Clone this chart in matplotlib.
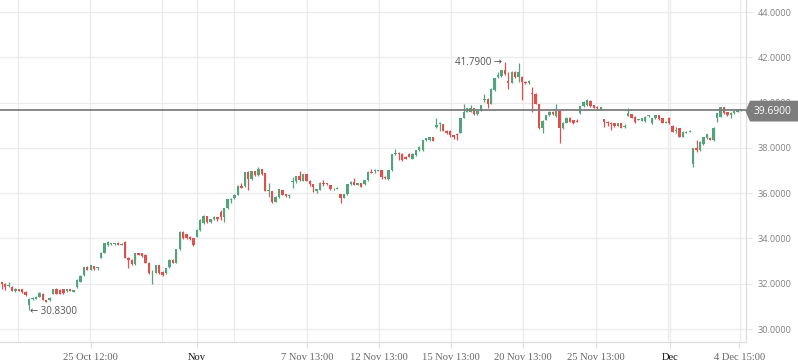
import matplotlib
matplotlib.use('Agg')
import matplotlib.pyplot as plt
from matplotlib.patches import Polygon
from matplotlib.transforms import IdentityTransform

# ---- data (hourly candles) ----
opens = [32.06, 32.01, 31.90, 31.87, 31.68, 31.75, 31.75, 31.65, 31.06, 31.31,
         31.35, 31.43, 31.57, 31.28, 31.28, 31.57, 31.76, 31.72, 31.75, 31.66,
         31.76, 31.65, 31.84, 32.09, 32.38, 32.76, 32.63, 32.78, 32.68, 33.15,
         33.37, 33.71, 33.75, 33.75, 33.80, 33.72, 33.85, 33.16, 33.05, 32.87,
         33.34, 33.34, 33.27, 32.93, 32.55, 32.49, 32.82, 32.53, 32.46, 32.72,
         33.07, 32.93, 33.52, 34.30, 34.20, 34.08, 34.00, 34.08,
         34.37, 34.69, 34.99, 34.72, 34.84, 34.93, 35.18, 34.93, 35.34, 35.72,
         35.77, 35.92, 36.33, 36.33, 36.95, 36.62, 36.96, 36.80, 37.06, 36.87,
         36.09, 36.09, 35.62, 35.81, 36.14, 35.95, 35.89, 36.50, 36.53, 36.75,
         36.55, 36.84, 36.55, 36.39, 36.11, 36.14, 36.46, 36.43, 36.36, 36.17,
         36.20, 35.96, 35.80, 35.96, 36.40, 36.50, 36.36, 36.43, 36.40, 36.58,
         36.95, 36.99, 36.99, 37.02, 36.73, 36.62, 37.02, 37.71, 37.79,
         37.75, 37.61, 37.75, 37.53, 37.68, 37.90, 37.90, 38.34, 38.34, 38.46,
         38.93, 39.05, 39.05, 38.76, 38.76, 38.56, 38.57, 38.67, 39.33, 39.59,
         39.59, 39.74, 39.49, 39.64, 40.11, 40.18, 39.96, 40.55, 41.14, 41.17,
         41.43, 40.96, 40.87, 41.36, 41.11, 41.14, 40.92, 40.85, 40.43, 40.40,
         39.93, 38.86, 39.23, 39.45, 39.59, 39.40, 39.64, 38.86, 39.11, 39.34,
         39.23, 39.17,
         39.52, 39.84, 39.89, 40.08, 39.89, 39.82, 39.70, 39.26, 39.15, 39.11,
         39.08, 38.98, 39.08, 38.93, 39.42, 39.48, 39.37, 39.23, 39.20, 39.18,
         39.40, 39.08, 39.30, 39.45, 39.30, 39.11, 39.34, 38.98, 38.76, 38.86,
         38.49, 38.67, 38.70, 37.31, 37.98, 37.90, 38.17, 38.42, 38.45, 38.34,
         39.34, 39.37, 39.79, 39.57, 39.45, 39.52, 39.59, 39.67]
highs = [32.08, 32.03, 32.09, 31.90, 31.80, 31.78, 31.78, 31.67, 31.38, 31.42,
         31.45, 31.63, 31.60, 31.30, 31.40, 31.77, 31.80, 31.78, 31.77, 31.78,
         31.78, 31.74, 32.20, 32.38, 32.75, 32.80, 32.83, 32.80, 32.75, 33.39,
         33.80, 33.87, 33.82, 33.80, 33.83, 33.80, 33.88, 33.18, 33.08, 33.37,
         33.37, 33.37, 33.30, 32.95, 32.62, 32.84, 32.84, 32.55, 32.70, 33.09,
         33.10, 33.55, 34.32, 34.33, 34.22, 34.10, 34.02, 34.40,
         34.85, 35.02, 35.00, 34.86, 34.99, 34.95, 35.28, 35.36, 35.76, 35.80,
         35.95, 36.36, 36.46, 36.95, 36.98, 36.98, 36.98, 37.17, 37.08, 36.90,
         36.43, 36.11, 35.86, 36.19, 36.16, 35.97, 35.95, 36.73, 36.77, 36.98,
         36.86, 36.86, 36.57, 36.40, 36.20, 36.48, 36.58, 36.45, 36.38, 36.23,
         36.28, 35.98, 35.98, 36.41, 36.52, 36.65, 36.45, 36.45, 36.60, 36.97,
         37.09, 37.06, 37.04, 37.04, 36.75, 37.04, 37.73, 37.93, 37.83,
         37.77, 37.63, 37.77, 37.77, 37.92, 38.07, 38.36, 38.44, 38.48, 38.48,
         39.34, 39.15, 39.07, 38.78, 38.78, 38.58, 38.64, 39.32, 39.96, 39.76,
         39.89, 39.76, 39.66, 39.91, 40.40, 40.20, 40.64, 41.09, 41.36, 41.45,
         41.79, 41.33, 41.38, 41.38, 41.73, 41.16, 40.94, 40.98, 40.70, 40.42,
         39.95, 39.22, 39.47, 39.61, 39.61, 39.93, 39.66, 39.13, 39.36, 39.36,
         39.25, 39.26,
         39.86, 40.06, 40.16, 40.10, 39.91, 39.84, 39.81, 39.28, 39.17, 39.13,
         39.10, 39.10, 39.10, 39.05, 39.74, 39.50, 39.39, 39.28, 39.32, 39.39,
         39.47, 39.32, 39.47, 39.47, 39.32, 39.17, 39.36, 39.00, 38.93, 38.88,
         38.73, 38.73, 38.77, 38.00, 38.34, 38.29, 38.48, 38.63, 38.47, 38.91,
         39.54, 39.81, 39.81, 39.59, 39.57, 39.64, 39.72, 39.71]
lows = [31.75, 31.72, 31.84, 31.66, 31.65, 31.66, 31.60, 31.48, 30.83, 31.28,
        31.33, 31.40, 31.27, 31.19, 31.26, 31.55, 31.55, 31.55, 31.57, 31.64,
        31.66, 31.63, 31.82, 32.07, 32.35, 32.62, 32.60, 32.63, 32.63, 33.13,
        33.35, 33.69, 33.71, 33.72, 33.70, 33.70, 33.14, 32.68, 32.85, 32.85,
        33.25, 33.20, 32.90, 32.44, 32.01, 32.47, 32.44, 32.36, 32.44, 32.70,
        32.90, 32.90, 33.50, 33.97, 33.98, 33.93, 33.68, 34.06,
        34.33, 34.66, 34.70, 34.70, 34.82, 34.78, 34.81, 34.74, 35.32, 35.55,
        35.75, 35.90, 36.21, 36.28, 36.14, 36.60, 36.78, 36.78, 36.80, 36.08,
        35.84, 35.55, 35.60, 35.79, 35.90, 35.84, 35.78, 36.21, 36.43, 36.56,
        36.53, 36.53, 36.31, 36.06, 35.99, 36.12, 36.31, 36.36, 36.15, 36.12,
        36.18, 35.58, 35.78, 35.94, 36.38, 36.34, 36.34, 36.26, 36.38, 36.56,
        36.87, 36.87, 36.97, 36.62, 36.63, 36.60, 37.00, 37.69, 37.46,
        37.40, 37.50, 37.58, 37.50, 37.66, 37.88, 37.88, 38.32, 38.32, 38.29,
        38.86, 38.76, 38.74, 38.62, 38.46, 38.39, 38.37, 38.65, 39.31, 39.57,
        39.57, 39.47, 39.47, 39.62, 40.04, 39.74, 39.94, 40.53, 41.07, 41.15,
        41.24, 40.62, 40.85, 41.09, 40.92, 40.11, 40.83, 40.83, 39.59, 39.94,
        38.84, 38.64, 39.21, 39.43, 39.47, 39.38, 38.20, 38.84, 39.09, 39.13,
        39.06, 39.13,
        39.50, 39.82, 39.87, 39.82, 39.75, 39.72, 39.68, 38.93, 38.96, 38.81,
        38.94, 38.96, 38.87, 38.86, 39.40, 39.32, 39.08, 39.21, 39.18, 39.16,
        39.38, 39.06, 39.28, 39.24, 39.09, 39.09, 39.06, 38.69, 38.64, 38.47,
        38.47, 38.65, 38.68, 37.17, 37.83, 37.88, 38.15, 38.40, 38.35, 38.32,
        39.15, 39.35, 39.50, 39.43, 39.33, 39.50, 39.57, 39.65]
closes = [31.98, 31.87, 31.92, 31.69, 31.76, 31.68, 31.62, 31.50, 31.35, 31.38,
          31.43, 31.60, 31.28, 31.21, 31.38, 31.75, 31.57, 31.57, 31.60, 31.76,
          31.68, 31.72, 32.16, 32.34, 32.72, 32.63, 32.81, 32.66, 32.72, 33.37,
          33.78, 33.85, 33.78, 33.78, 33.72, 33.76, 33.16, 33.05, 32.87, 33.34,
          33.27, 33.22, 32.93, 32.46, 32.57, 32.82, 32.46, 32.38, 32.68, 33.07,
          32.93, 33.52, 34.30, 34.00, 34.00, 33.96, 33.71, 34.37,
          34.81, 34.99, 34.72, 34.84, 34.96, 34.84, 34.93, 35.34, 35.74, 35.76,
          35.92, 36.33, 36.25, 36.92, 36.62, 36.96, 36.80, 37.06, 36.83, 36.11,
          36.11, 35.62, 35.84, 36.17, 35.92, 35.89, 35.90, 36.53, 36.75, 36.58,
          36.84, 36.55, 36.39, 36.28, 36.17, 36.46, 36.40, 36.39, 36.17, 36.20,
          36.25, 35.77, 35.96, 36.39, 36.50, 36.36, 36.43, 36.28, 36.58, 36.95,
          36.90, 37.02, 37.02, 36.73, 36.65, 37.02, 37.71, 37.79, 37.71,
          37.46, 37.53, 37.61, 37.75, 37.90, 38.05, 38.34, 38.42, 38.46, 38.31,
          39.00, 39.08, 38.76, 38.64, 38.56, 38.49, 38.56, 39.30, 39.59, 39.74,
          39.77, 39.49, 39.64, 39.89, 40.18, 39.93, 40.62, 41.07, 41.21, 41.43,
          41.26, 40.87, 41.36, 41.11, 41.36, 40.92, 40.85, 40.96, 40.40, 39.96,
          38.86, 39.20, 39.45, 39.59, 39.49, 39.64, 38.86, 39.11, 39.34, 39.15,
          39.08, 39.15,
          39.84, 40.04, 40.11, 39.84, 39.77, 39.74, 39.79, 39.15, 39.08, 39.04,
          38.96, 39.08, 38.89, 38.96, 39.52, 39.34, 39.15, 39.26, 39.30, 39.37,
          39.45, 39.30, 39.45, 39.26, 39.11, 39.15, 39.08, 38.71, 38.81, 38.49,
          38.71, 38.71, 38.75, 37.98, 37.90, 38.27, 38.46, 38.61, 38.37, 38.89,
          39.52, 39.79, 39.52, 39.45, 39.55, 39.62, 39.70, 39.69]

tick_pos = [26.0, 57.0, 89.2, 110.3, 131.3, 152.4, 173.5, 195.2, 215.5]
tick_labels = ['25 Oct 12:00', 'Nov', '7 Nov 13:00', '12 Nov 13:00', '15 Nov 13:00',
               '20 Nov 13:00', '25 Nov 13:00', 'Dec', '4 Dec 15:00']
grid_x = [4.8, 25.9, 46.9, 57.0, 68.0, 89.1, 110.2, 131.3, 152.4, 173.5, 194.6, 195.2, 215.7]
y_ticks = [30, 32, 34, 36, 38, 40, 42, 44]
last_price = 39.69
high_idx, high_val = 147, 41.79
low_idx, low_val = 8, 30.83

GREEN = '#53a37c'
RED = '#e0504d'

W, H = 798, 363
fig = plt.figure(figsize=(W / 100, H / 100), dpi=100)
ax = fig.add_axes([0, 21 / H, 745.5 / W, 342 / H])
ax.set_xlim(-0.5, 217.3)
ax.set_ylim(29.43, 44.53)

for y in y_ticks:
    ax.axhline(y, color='#ebebeb', lw=0.9, zorder=0)
for x in grid_x:
    ax.axvline(x, color='#ebebeb', lw=0.9, zorder=0)

xs = list(range(len(closes)))
cols = [GREEN if c >= o else RED for o, c in zip(opens, closes)]
ax.vlines(xs, lows, highs, colors=cols, lw=0.9, zorder=2)
heights = [max(abs(c - o), 0.035) for o, c in zip(opens, closes)]
bottoms = [min(o, c) for o, c in zip(opens, closes)]
ax.bar(xs, heights, bottom=bottoms, width=0.7, color=cols, linewidth=0, zorder=3)

ax.axhline(last_price, color='#7d7d7d', lw=1.3, zorder=4)

for s in ['top', 'left']:
    ax.spines[s].set_visible(False)
for s in ['right', 'bottom']:
    ax.spines[s].set_color('#dcdcdc')
    ax.spines[s].set_linewidth(0.9)

ax.yaxis.tick_right()
ax.set_yticks(y_ticks)
ax.set_yticklabels([f'{v:.4f}' for v in y_ticks], family=['Open Sans', 'DejaVu Sans'],
                   fontsize=6.6, color='#808080')
ax.tick_params(axis='y', length=4, color='#e4e4e4', pad=5)

ax.set_xticks(tick_pos)
ax.set_xticklabels(tick_labels, family=['Liberation Serif', 'DejaVu Serif'], fontsize=7.6,
                   color='#666666')
for lab in ax.get_xticklabels():
    if lab.get_text() in ('Nov', 'Dec'):
        lab.set_color('#111111')
ax.tick_params(axis='x', length=4, color='#dcdcdc', pad=4)

ax.annotate(f'{high_val:.4f} \u2192', xy=(high_idx, high_val), xytext=(-2, 0),
            textcoords='offset points', ha='right', va='center', fontsize=7,
            color='#555555', family=['Open Sans', 'DejaVu Sans'], zorder=6)
ax.annotate(f'\u2190 {low_val:.4f}', xy=(low_idx, low_val), xytext=(1, -1.2),
            textcoords='offset points', ha='left', va='center', fontsize=7,
            color='#555555', family=['Open Sans', 'DejaVu Sans'], zorder=6)

# last price tag on the right
top, bot = H - 100.7, H - 121.5
mid = (top + bot) / 2
box = Polygon([(745.5, mid), (750, top), (798, top), (798, bot), (750, bot)],
              closed=True, transform=IdentityTransform(), facecolor='#7d7d7d',
              edgecolor='none', zorder=10)
fig.patches.append(box)
fig.text(773 / W, mid / H, f'{last_price:.4f}', ha='center', va='center', color='white',
         fontsize=7.4, family=['Open Sans', 'DejaVu Sans'], zorder=11)

fig.savefig('out.png', dpi=100)
